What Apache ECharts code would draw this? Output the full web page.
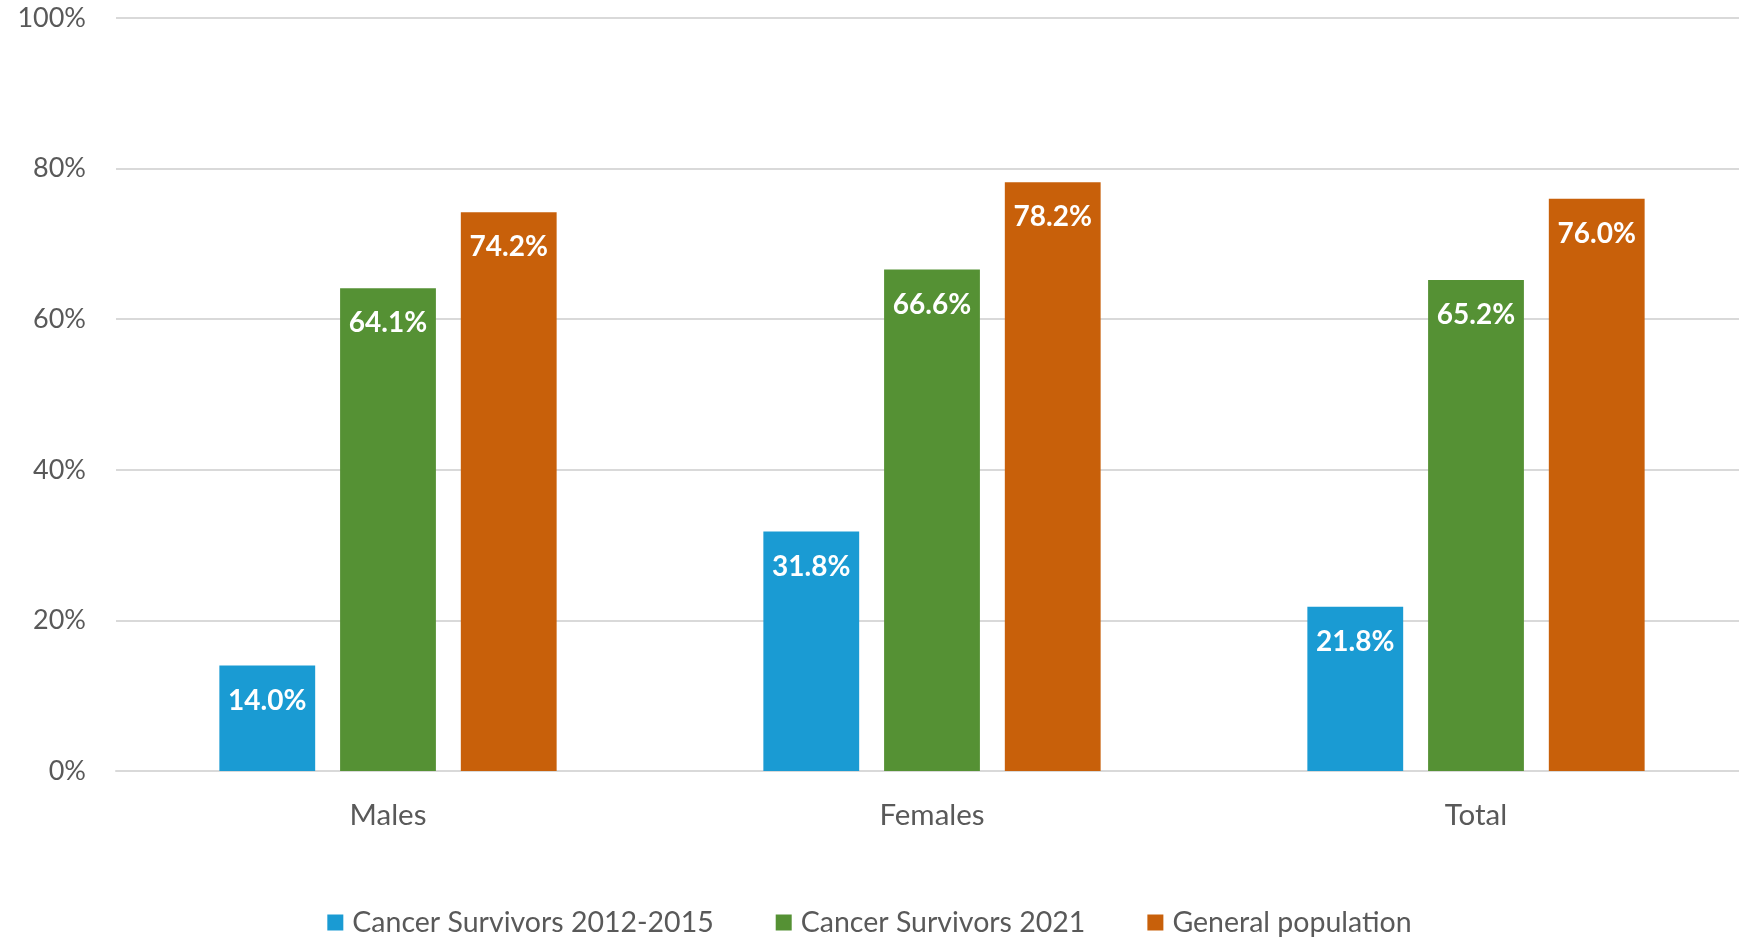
<!DOCTYPE html>
<html>
<head>
<meta charset="utf-8">
<script src="https://cdn.jsdelivr.net/npm/echarts@6/dist/echarts.min.js"></script>
<style>
  html, body { margin: 0; padding: 0; background: #fff; }
  #chart { width: 1739px; height: 937px; }
</style>
</head>
<body>
<div id="chart"></div>
<script>
const categories = ["Males", "Females", "Total"];
const seriesNames = ["Cancer Survivors 2012-2015", "Cancer Survivors 2021", "General population"];
const survivors2012 = [14.0, 31.8, 21.8];
const survivors2021 = [64.1, 66.6, 65.2];
const generalPop = [74.2, 78.2, 76.0];
const yTicks = [0, 20, 40, 60, 80, 100];

const colors = ["#1a9bd3", "#559134", "#c8600a"];
const textColor = "#595959";
const font = "Lato, 'Open Sans', sans-serif";

// one bar series per group, labels white & bold inside the top
function barSeries(name, data, color) {
  return {
    name: name,
    type: "bar",
    data: data,
    itemStyle: { color: color },
    barGap: "26%",
    barCategoryGap: "38%",
    label: {
      show: true,
      position: "insideTop",
      distance: 21,
      color: "#fff",
      fontWeight: "bold",
      fontSize: 28,
      fontFamily: font,
      formatter: (p) => p.value.toFixed(1) + "%",
    },
  };
}

const myChart = echarts.init(document.getElementById("chart"));
myChart.setOption({
  animation: false,
  color: colors,
  // plot runs slightly past the right edge, like the original
  grid: { left: 116, right: -9, top: 18, bottom: 166, outerBoundsMode: "none" },
  legend: {
    top: 903,
    left: "center",
    itemWidth: 16,
    itemHeight: 16,
    itemGap: 62,
    icon: "rect",
    textStyle: { color: textColor, fontSize: 28.5, fontFamily: font, padding: [0, 0, 0, 4] },
  },
  xAxis: {
    type: "category",
    data: categories,
    axisLine: { lineStyle: { color: "#d9d9d9", width: 2 } },
    axisTick: { show: false },
    axisLabel: { color: textColor, fontSize: 29.5, fontFamily: font, margin: 29 },
  },
  yAxis: {
    type: "value",
    min: yTicks[0],
    max: yTicks[yTicks.length - 1],
    interval: 20,
    axisLine: { show: false },
    axisTick: { show: false },
    splitLine: { lineStyle: { color: "#d9d9d9", width: 2 } },
    axisLabel: { color: textColor, fontSize: 27, fontFamily: font, margin: 30, formatter: "{value}%" },
  },
  series: [
    barSeries(seriesNames[0], survivors2012, colors[0]),
    barSeries(seriesNames[1], survivors2021, colors[1]),
    barSeries(seriesNames[2], generalPop, colors[2]),
  ],
});
</script>
</body>
</html>
